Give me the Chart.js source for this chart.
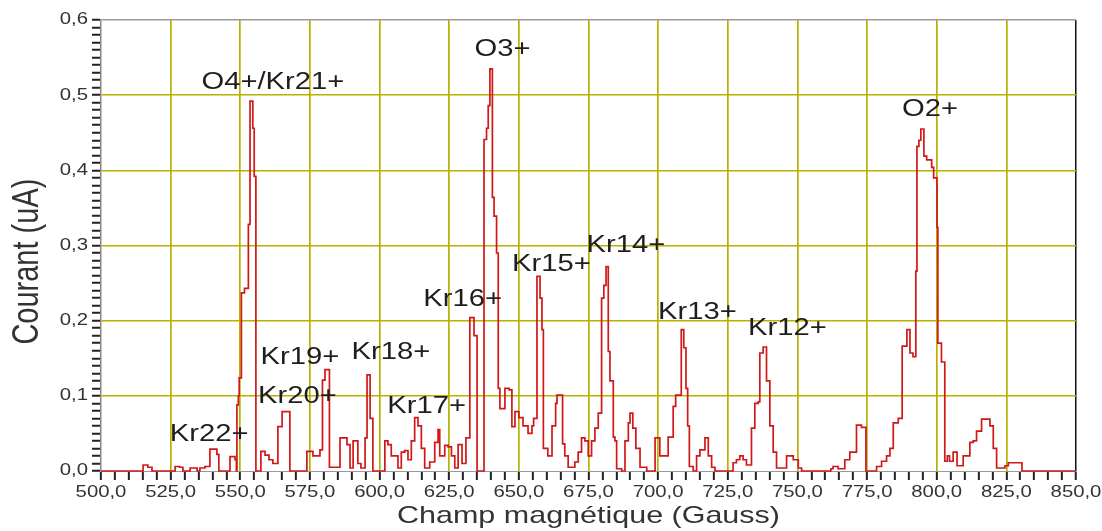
<!DOCTYPE html>
<html><head><meta charset="utf-8">
<script src="https://cdn.jsdelivr.net/npm/chart.js@4.4.1/dist/chart.umd.min.js"></script>
<style>html,body{margin:0;padding:0;background:#fff;}#wrap{width:1102px;height:531px;position:relative;}</style>
</head><body><div id="wrap"><canvas id="c"></canvas></div>
<script>
// Magnetic field (Gauss) where each current level starts (stepped trace)
const fieldGauss = [500,515.1,516.8,518.3,526.6,528.2,529.4,532,534.5,535.5,537.3,539.1,541.6,542.3,546.3,548.1,548.6,548.8,549.3,549.6,550.4,551.5,552.9,553.5,554.5,555,555.6,557.4,558.9,560.3,561.7,563.5,565,567.8,573.9,576.1,578.6,579.5,580.4,582,585.8,588.3,589.4,590.5,592.2,593.3,594.8,595.5,596.6,597.6,601.9,603,604.2,606.6,607.8,609,610.2,611.4,612.6,613.8,615,616.2,618,619.8,621,621.6,623.4,624.6,625.8,627,628.2,629.6,631,632.4,633.9,635,637.5,638.4,639,639.6,640.5,641.1,642,642.6,643.2,645,646.5,647.5,648.6,650,651.5,653.3,654.7,655.3,656.5,657.6,658.3,658.8,660.4,661.9,663.2,663.7,665.7,666.5,667.7,670.1,671.3,672.5,673.7,674.9,676.1,677.3,678.5,679.7,680.5,681.3,682.1,682.7,683.9,684.5,685.1,686.9,688.1,689.3,689.9,690.9,692,693.5,695.9,698.9,700.6,703.6,705.4,706.3,708.3,709.2,710,710.6,711.2,712.6,713.8,715,716.8,718,719.2,720.4,726.9,728.1,729.3,730.5,731.7,733.5,734.7,735.9,736.5,737.7,738.9,740.1,741.3,742.5,746.1,748.5,750.3,751.5,762,762.8,764.6,767,768.8,771.2,773,774.6,778.4,780.2,782,783.2,784.4,786.2,787.6,789.3,790.4,791.5,792.5,792.9,793.6,794.3,795.4,796.4,798.2,798.9,800.1,800.4,801.7,802.9,803.8,804.6,805.9,807.3,809.5,811.9,813.1,814.3,816.1,819.1,820.3,821.5,824.5,825.7,830.6,850];
// Current (uA)
const currentUA = [0,0.008,0.005,0,0.006,0.005,0,0.004,0,0.004,0.006,0.029,0.022,0,0.019,0.015,0,0.088,0.1,0.124,0.237,0.243,0.328,0.492,0.456,0.392,0,0.026,0.021,0.015,0.01,0.059,0.079,0,0.026,0.02,0.028,0.121,0.135,0.005,0.044,0.035,0.004,0.04,0.01,0.004,0.044,0.128,0.07,0,0.04,0.035,0.02,0.004,0.025,0.027,0.015,0.04,0.071,0.06,0.03,0.004,0.012,0.038,0.055,0.02,0.034,0.032,0.02,0.004,0.035,0.01,0.044,0.204,0.18,0,0.441,0.456,0.486,0.535,0.364,0.339,0.29,0.11,0.083,0.11,0.108,0.059,0.079,0.071,0.06,0.05,0.06,0.07,0.259,0.23,0.188,0.03,0.02,0.06,0.09,0.101,0.036,0.02,0.005,0.012,0.025,0.044,0.04,0.02,0.04,0.057,0.077,0.23,0.247,0.272,0.159,0.12,0.045,0.04,0.003,0,0.04,0.064,0.077,0.057,0.03,0.005,0,0.044,0.02,0.045,0.086,0.101,0.188,0.164,0.11,0.06,0.006,0,0.02,0.028,0.044,0.02,0.005,0,0.011,0.015,0.02,0.015,0.008,0.057,0.09,0.092,0.157,0.165,0.12,0.06,0.025,0.004,0.02,0.015,0.004,0,0.003,0.006,0.003,0.015,0.025,0.061,0.058,0,0.006,0.013,0.02,0.03,0.064,0.07,0.166,0.188,0.157,0.152,0.266,0.432,0.44,0.455,0.419,0.414,0.404,0.39,0.324,0.17,0.145,0.013,0.02,0.013,0.025,0.007,0.02,0.038,0.04,0.053,0.069,0.06,0.03,0.004,0.007,0.011,0,0];

const xTickLabels = ['500,0','525,0','550,0','575,0','600,0','625,0','650,0','675,0','700,0','725,0','750,0','775,0','800,0','825,0','850,0'];
const yTickLabels = ['0,0','0,1','0,2','0,3','0,4','0,5','0,6'];

// Peak labels with their anchor (Gauss, uA)
const peakLabels = ['O4+/Kr21+','O3+','O2+','Kr14+','Kr15+','Kr16+','Kr13+','Kr12+','Kr18+','Kr19+','Kr20+','Kr17+','Kr22+'];
const peakLabelX = [561.7,644.1,797.6,688.4,661.7,629.8,714.1,746.4,604.1,571.4,570.5,616.9,538.8];
const peakLabelY = [0.517,0.561,0.481,0.300,0.274,0.228,0.211,0.189,0.157,0.151,0.099,0.086,0.048];

const FONT = "'Liberation Sans', Arial, sans-serif";
const OLIVE = '#b9b000';
const CLEAR = 'rgba(0,0,0,0)';

const canvas = document.getElementById('c');
const ctx = canvas.getContext('2d');
// the source picture's text is horizontally stretched
const STRETCH = 1.27;
const origFill = ctx.fillText.bind(ctx);
ctx.fillText = function(text, x, y, maxWidth) {
  const m = ctx.getTransform();
  const p = m.transformPoint(new DOMPoint(x, y));
  ctx.save();
  ctx.setTransform(new DOMMatrix().translate(p.x, p.y).scale(STRETCH, 1).translate(-p.x, -p.y).multiply(m));
  if (maxWidth !== undefined && maxWidth !== null) origFill(text, x, y, maxWidth); else origFill(text, x, y);
  ctx.restore();
};

Chart.defaults.font.family = FONT;

const peakLabelPlugin = {
  id: 'peakLabels',
  afterDatasetsDraw(chart) {
    const c = chart.ctx, xs = chart.scales.x, ys = chart.scales.y;
    c.save();
    c.font = "23px " + FONT;
    c.fillStyle = '#1e1e1e';
    c.textAlign = 'center';
    c.textBaseline = 'middle';
    peakLabels.forEach((t, i) => c.fillText(t, xs.getPixelForValue(peakLabelX[i]), ys.getPixelForValue(peakLabelY[i])));
    c.restore();
  }
};

new Chart(ctx, {
  type: 'line',
  data: {
    datasets: [{
      data: fieldGauss.map((g, i) => ({x: g, y: currentUA[i]})),
      borderColor: '#d01818',
      borderWidth: 1.7,
      pointRadius: 0,
      stepped: true,
      fill: false,
      clip: 4
    }]
  },
  options: {
    responsive: true,
    maintainAspectRatio: false,
    animation: false,
    devicePixelRatio: 1,
    layout: {padding: {left: 0, right: 26, top: 20, bottom: 0}},
    plugins: {legend: {display: false}, tooltip: {enabled: false}},
    scales: {
      x: {
        type: 'linear', min: 500, max: 850,
        afterFit(s) { s.height = 60; },
        ticks: {
          stepSize: 5, autoSkip: false, maxRotation: 0, minRotation: 0,
          callback: v => { const k = Math.round(v - 500); return k % 25 === 0 ? xTickLabels[k / 25] : ''; },
          font: {size: 16}, color: '#333', padding: 3
        },
        grid: {
          color: c => { const v = Math.round(c.tick.value); if (v === 850) return '#111'; if (v === 500) return CLEAR; return v % 25 === 0 ? OLIVE : CLEAR; },
          lineWidth: c => Math.round(c.tick.value) === 850 ? 1.5 : 1.7,
          drawTicks: true,
          tickLength: 9, tickColor: '#222', tickWidth: 2
        },
        border: {display: true, color: '#999', width: 1},
        title: {display: true, text: 'Champ magnétique (Gauss)', font: {size: 24}, color: '#333', padding: {top: 0, bottom: 0}}
      },
      y: {
        min: 0, max: 0.6,
        afterFit(s) { s.width = 101; },
        ticks: {
          stepSize: 0.01, autoSkip: false,
          callback: v => { const k = Math.round(v * 100); return k % 10 === 0 ? yTickLabels[k / 10] : ''; },
          font: {size: 16}, color: '#333', padding: 4
        },
        grid: {
          color: c => { const k = Math.round(c.tick.value * 100); if (k === 60) return '#9a9a9a'; return (k % 10 === 0 && k > 0) ? OLIVE : CLEAR; },
          lineWidth: 1.5,
          drawTicks: true,
          tickLength: 9, tickColor: '#222', tickWidth: 2
        },
        border: {display: true, color: '#888', width: 1.5},
        title: {display: true, text: 'Courant (uA)    ', font: {size: 29}, color: '#333', padding: {top: 10, bottom: 0}}
      }
    }
  },
  plugins: [peakLabelPlugin]
});
</script></body></html>
